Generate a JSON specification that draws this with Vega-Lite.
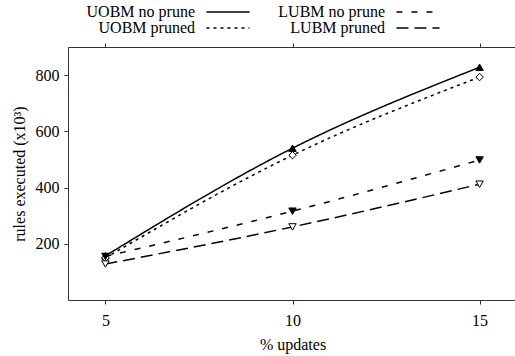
{
  "$schema": "https://vega.github.io/schema/vega-lite/v6.json",
  "width": 449,
  "height": 253,
  "autosize": {"type": "none"},
  "padding": {"left": 68, "top": 47, "right": 0, "bottom": 56},
  "config": {
    "font": "Liberation Serif",
    "view": {"stroke": null},
    "axis": {
      "labelFontSize": 16,
      "titleFontSize": 16,
      "titleFontWeight": "normal",
      "labelColor": "black",
      "titleColor": "black",
      "domainColor": "#333",
      "tickColor": "#333",
      "tickSize": 4,
      "grid": false,
      "labelFont": "Liberation Serif",
      "titleFont": "Liberation Serif"
    },
    "legend": {"labelFont": "Liberation Serif"}
  },
  "data": {
    "values": [
      {"pct": 5, "rules": 157, "series": "UOBM no prune"},
      {"pct": 10, "rules": 540, "series": "UOBM no prune"},
      {"pct": 15, "rules": 828, "series": "UOBM no prune"},
      {"pct": 5, "rules": 150, "series": "UOBM pruned"},
      {"pct": 10, "rules": 515, "series": "UOBM pruned"},
      {"pct": 15, "rules": 793, "series": "UOBM pruned"},
      {"pct": 5, "rules": 155, "series": "LUBM no prune"},
      {"pct": 10, "rules": 316, "series": "LUBM no prune"},
      {"pct": 15, "rules": 498, "series": "LUBM no prune"},
      {"pct": 5, "rules": 128, "series": "LUBM pruned"},
      {"pct": 10, "rules": 260, "series": "LUBM pruned"},
      {"pct": 15, "rules": 412, "series": "LUBM pruned"}
    ]
  },
  "resolve": {"axis": {"x": "independent"}},
  "layer": [
    {
      "mark": {"type": "line", "interpolate": "monotone", "strokeWidth": 1.5, "color": "black"},
      "encoding": {
        "x": {
          "field": "pct", "type": "quantitative",
          "scale": {"domain": [4, 16], "nice": false},
          "axis": {"values": [5, 10, 15], "title": "% updates", "labelPadding": 8, "titlePadding": 8, "orient": "bottom"}
        },
        "y": {
          "field": "rules", "type": "quantitative",
          "scale": {"domain": [0, 900], "nice": false},
          "axis": {"values": [200, 400, 600, 800], "title": "rules executed (x10³)", "labelPadding": 5, "titlePadding": 8, "orient": "left"}
        },
        "strokeDash": {
          "field": "series", "type": "nominal",
          "scale": {
            "domain": ["UOBM no prune", "UOBM pruned", "LUBM no prune", "LUBM pruned"],
            "range": [[1, 0], [3, 4], [6, 9], [12, 6]]
          },
          "legend": {
            "orient": "none",
            "legendX": 152,
            "legendY": -43,
            "columns": 2,
            "title": null,
            "padding": 0,
            "symbolType": "M-4,0H4",
            "symbolSize": 116,
            "symbolOffset": 0,
            "symbolStrokeWidth": 1.5,
            "symbolStrokeColor": "black",
            "symbolFillColor": "transparent",
            "rowPadding": 0,
            "columnPadding": 25,
            "labelAlign": "right",
            "labelOffset": -41,
            "labelFontSize": 16,
            "labelColor": "black",
            "labelLimit": 300
          }
        }
      }
    },
    {
      "transform": [{"filter": "datum.series === 'UOBM no prune'"}],
      "mark": {"type": "point", "shape": "triangle-up", "filled": true, "fill": "black", "stroke": "black", "strokeWidth": 1, "size": 55, "opacity": 1},
      "encoding": {
        "x": {"field": "pct", "type": "quantitative", "axis": {"orient": "top", "values": [5, 10, 15], "labels": false, "title": null}},
        "y": {"field": "rules", "type": "quantitative"}
      }
    },
    {
      "transform": [{"filter": "datum.series === 'UOBM pruned'"}],
      "mark": {"type": "point", "shape": "diamond", "filled": true, "fill": "white", "stroke": "black", "strokeWidth": 1, "size": 55, "opacity": 1},
      "encoding": {
        "x": {"field": "pct", "type": "quantitative", "axis": null},
        "y": {"field": "rules", "type": "quantitative"}
      }
    },
    {
      "transform": [{"filter": "datum.series === 'LUBM no prune'"}],
      "mark": {"type": "point", "shape": "triangle-down", "filled": true, "fill": "black", "stroke": "black", "strokeWidth": 1, "size": 55, "opacity": 1},
      "encoding": {
        "x": {"field": "pct", "type": "quantitative", "axis": null},
        "y": {"field": "rules", "type": "quantitative"}
      }
    },
    {
      "transform": [{"filter": "datum.series === 'LUBM pruned'"}],
      "mark": {"type": "point", "shape": "triangle-down", "filled": true, "fill": "white", "stroke": "black", "strokeWidth": 1, "size": 55, "opacity": 1},
      "encoding": {
        "x": {"field": "pct", "type": "quantitative", "axis": null},
        "y": {"field": "rules", "type": "quantitative"}
      }
    }
  ]
}
